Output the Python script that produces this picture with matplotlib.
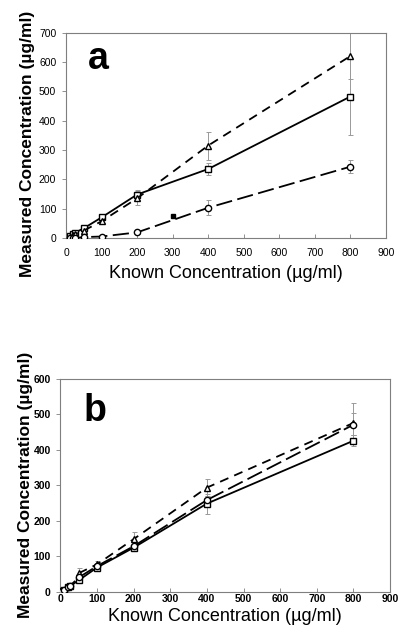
import matplotlib
matplotlib.use('Agg')
import matplotlib.pyplot as plt
import numpy as np

plt.rcParams['font.family'] = ['Liberation Sans', 'DejaVu Sans']

# panel a
a_x = [10, 20, 25, 50, 100, 200, 400, 800]
a_sq = [8, 14, 18, 33, 70, 148, 235, 482]
a_sq_lo = [8, 14, 18, 30, 62, 130, 215, 350]
a_sq_hi = [8, 14, 18, 36, 76, 165, 255, 720]
a_tri = [5, 10, 14, 25, 57, 135, 315, 620]
a_tri_lo = [5, 10, 14, 22, 52, 112, 265, 540]
a_tri_hi = [5, 10, 14, 28, 62, 160, 362, 720]
a_circ = [0, 0, 0, 3, 5, 19, 103, 243]
a_circ_lo = [0, 0, 0, 2, 3, 15, 78, 220]
a_circ_hi = [0, 0, 0, 4, 7, 23, 130, 265]
a_extra_x = [300]
a_extra_y = [75]

# panel b
b_x = [5, 10, 20, 25, 50, 100, 200, 400, 800]
b_sq = [2, 5, 12, 15, 32, 68, 124, 248, 425]
b_sq_lo = [2, 5, 12, 15, 28, 62, 115, 220, 410]
b_sq_hi = [2, 5, 12, 15, 36, 74, 133, 270, 440]
b_tri_x = [50, 100, 200, 400, 800]
b_tri = [52, 77, 148, 293, 475]
b_tri_lo = [40, 70, 128, 270, 440]
b_tri_hi = [68, 85, 168, 317, 530]
b_circ_x = [5, 10, 20, 25, 50, 100, 200, 400, 800]
b_circ = [3, 6, 12, 15, 40, 72, 128, 258, 470]
b_circ_lo = [3, 6, 12, 15, 35, 66, 120, 240, 440]
b_circ_hi = [3, 6, 12, 15, 45, 78, 136, 276, 503]

xticks = list(range(0, 1000, 100))
err_col = '#999999'
frame_col = '#7f7f7f'


def draw_series(ax, x, y, lo, hi, marker, dashes):
    y = np.asarray(y)
    yerr = [y - np.asarray(lo), np.asarray(hi) - y]
    ax.errorbar(x, y, yerr=yerr, fmt='none', ecolor=err_col, elinewidth=0.7,
                capsize=1.8, capthick=0.7, zorder=1)
    line, = ax.plot(x, y, color='black', lw=1.3, marker=marker, markersize=4.5,
                    markerfacecolor='white', markeredgecolor='black',
                    markeredgewidth=1.0, zorder=3)
    if dashes is not None:
        line.set_dashes(dashes)


def style_axes(ax, ymax, ystep, tick_weight, xpad, ypad):
    ax.set_xlim(0, 900)
    ax.set_ylim(0, ymax)
    ax.set_xticks(xticks)
    ax.set_yticks(range(0, ymax + 1, ystep))
    for s in ax.spines.values():
        s.set_color(frame_col)
        s.set_linewidth(0.8)
    ax.tick_params(axis='x', direction='in', length=3, width=0.6, color=frame_col,
                   labelsize=7.5, pad=xpad)
    ax.tick_params(axis='y', direction='out', length=3, width=0.6, color=frame_col,
                   labelsize=7.5, pad=ypad)
    for lab in ax.get_xticklabels() + ax.get_yticklabels():
        lab.set_fontweight(tick_weight)
    ax.set_ylabel('Measured Concentration (µg/ml)', fontsize=12.5, fontweight='bold')


fig = plt.figure(figsize=(4, 6.38), dpi=100)

ax1 = fig.add_axes([0.165, 0.627, 0.80, 0.322])
draw_series(ax1, a_x, a_sq, a_sq_lo, a_sq_hi, 's', None)
draw_series(ax1, a_x, a_tri, a_tri_lo, a_tri_hi, '^', (5, 3.5))
draw_series(ax1, a_x, a_circ, a_circ_lo, a_circ_hi, 'o', (9, 3))
ax1.plot(a_extra_x, a_extra_y, 's', color='black', markersize=3, zorder=3)
style_axes(ax1, 700, 100, 'normal', 7, 4)
ax1.set_xlabel('Known Concentration (µg/ml)', fontsize=13, labelpad=5)
ax1.yaxis.set_label_coords(-0.097, 0.46)
ax1.text(90, 610, 'a', fontsize=27, fontweight='bold', ha='center', va='center')

ax2 = fig.add_axes([0.151, 0.0726, 0.824, 0.334])
draw_series(ax2, b_x, b_sq, b_sq_lo, b_sq_hi, 's', None)
draw_series(ax2, b_tri_x, b_tri, b_tri_lo, b_tri_hi, '^', (5, 3.5))
draw_series(ax2, b_circ_x, b_circ, b_circ_lo, b_circ_hi, 'o', (9, 3))
style_axes(ax2, 600, 100, 'bold', 1.5, 4)
ax2.set_xlabel('Known Concentration (µg/ml)', fontsize=13, labelpad=3)
ax2.yaxis.set_label_coords(-0.084, 0.5)
ax2.text(95, 510, 'b', fontsize=27, fontweight='bold', ha='center', va='center')

fig.savefig('out.png', dpi=100)
